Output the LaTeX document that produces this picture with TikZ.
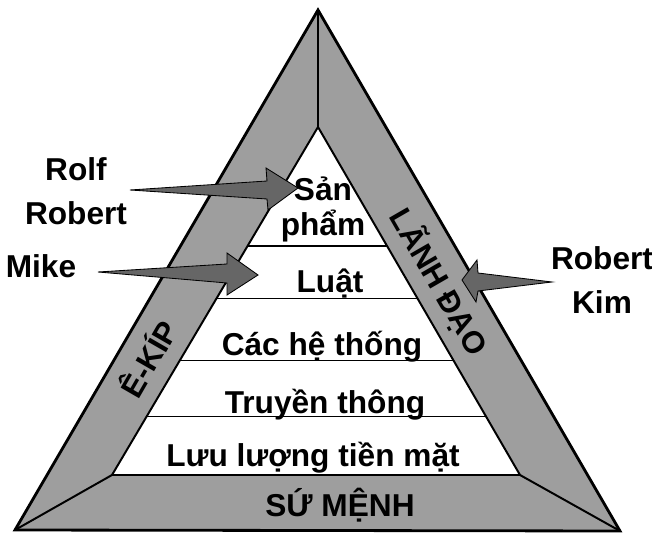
\documentclass[tikz,border=0pt]{standalone}
\usepackage{fontspec}
\setmainfont{Liberation Sans}
\usetikzlibrary{calc}

\tikzset{
  couche/.style={font=\fontsize{22.5}{26}\selectfont\bfseries, anchor=base, inner sep=1pt},
  nom/.style={font=\fontsize{22.5}{31}\selectfont\bfseries, align=center, inner sep=2pt},
  ruban/.style={font=\fontsize{22}{26}\selectfont\bfseries, inner sep=1pt},
  fleche/.style={fill=black!60, draw=black, line width=0.6pt, line join=miter},
}

\begin{document}
\begin{tikzpicture}[x=0.025cm, y=-0.025cm]
    \useasboundingbox (0,0) rectangle (652,537);

    % Sommets
    \coordinate (hautExt) at (318,10);
    \coordinate (gaucheExt) at (15,530);
    \coordinate (droiteExt) at (620,531);
    \coordinate (hautInt) at (318,127);
    \coordinate (gaucheInt) at (112,475);
    \coordinate (droiteInt) at (520,475);

    % Bandes
    \fill[black!38] (hautExt) -- (gaucheExt) -- (droiteExt) -- cycle;
    \fill[white] (hautInt) -- (gaucheInt) -- (droiteInt) -- cycle;
    \draw[line width=2pt, line join=miter] (hautExt) -- (gaucheExt) -- (droiteExt) -- cycle;
    \draw[line width=1.4pt] (hautInt) -- (gaucheInt) -- (droiteInt) -- cycle;
    \draw[line width=1.4pt] (hautExt) -- (hautInt);
    \draw[line width=1.4pt] (gaucheInt) -- (gaucheExt);
    \draw[line width=1.4pt] (droiteInt) -- (droiteExt);

    % Lignes de séparation
    \draw[thick] ($(hautInt)!0.342!(gaucheInt)$) -- ($(hautInt)!0.342!(droiteInt)$);
    \draw[thick] ($(hautInt)!0.494!(gaucheInt)$) -- ($(hautInt)!0.494!(droiteInt)$);
    \draw[thick] ($(hautInt)!0.670!(gaucheInt)$) -- ($(hautInt)!0.670!(droiteInt)$);
    \draw[thick] ($(hautInt)!0.833!(gaucheInt)$) -- ($(hautInt)!0.833!(droiteInt)$);

    % Noms
    \node[nom] (rolfRobert) at (76,191) {Rolf\\Robert};
    \node[nom] (mike) at (41,266) {Mike};
    \node[nom] (robertKim) at (602,280) {Robert\\Kim};

    % Flèches
    \coordinate (queueA) at (130,190);
    \coordinate (pointeA) at (298,188);
    \coordinate (queueB) at (98,272);
    \coordinate (pointeB) at (258,275);
    \coordinate (queueC) at (552,282);
    \coordinate (pointeC) at (462,280);
    \filldraw[fleche] (queueA) -- ($(pointeA)+(-31,-7)$) -- ($(pointeA)+(-32,-20)$) -- (pointeA)
        -- ($(pointeA)+(-30,22)$) -- ($(pointeA)+(-31,11)$) -- cycle;
    \filldraw[fleche] (queueB) -- ($(pointeB)+(-31,-11)$) -- ($(pointeB)+(-31,-22)$) -- (pointeB)
        -- ($(pointeB)+(-31,20)$) -- ($(pointeB)+(-31,8)$) -- cycle;
    \filldraw[fleche] (queueC) -- ($(pointeC)+(16,-7)$) -- ($(pointeC)+(15,-20)$) -- (pointeC)
        -- ($(pointeC)+(14,22)$) -- ($(pointeC)+(16,11)$) -- cycle;

    % Couches
    \node[couche] (san) at (323,201) {Sản};
    \node[couche] (pham) at (323,236) {phẩm};
    \node[couche] (luat) at (330,293) {Luật};
    \node[couche] (heThong) at (322,356) {Các hệ thống};
    \node[couche] (truyenThong) at (325,413) {Truyền thông};
    \node[couche] (luuLuong) at (313,466) {Lưu lượng tiền mặt};
    \node[couche] (suMenh) at (340,516) {SỨ MỆNH};
    \node[ruban, rotate=60] (ekip) at (147,358) {Ê-KÍP};
    \node[ruban, rotate=-60] (lanhDao) at (439,282) {LÃNH ĐẠO};
\end{tikzpicture}
\end{document}
